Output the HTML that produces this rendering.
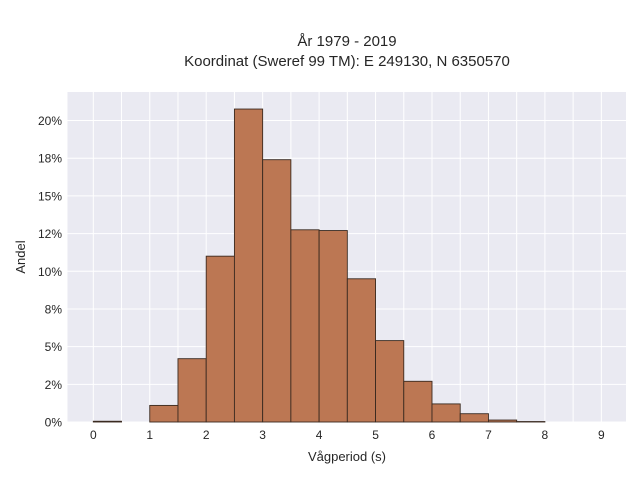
<!DOCTYPE html>
<html><head><meta charset="utf-8"><style>
body{margin:0;background:#fff;font-family:"Liberation Sans",sans-serif}
svg text{font-family:"Liberation Sans",sans-serif;fill:#262626}
</style></head><body>
<svg width="640" height="480" viewBox="0 0 640 480">
<text x="347" y="46" text-anchor="middle" font-size="15">År 1979 - 2019</text>
<text x="347" y="66" text-anchor="middle" font-size="15">Koordinat (Sweref 99 TM): E 249130, N 6350570</text>
<rect x="67.5" y="92" width="558.5" height="330" fill="#eaeaf2"/>
<g id="grid"></g>
<g id="bars"></g>
<g id="ticks"></g>
<text x="347" y="461" text-anchor="middle" font-size="13">Vågperiod (s)</text>
<text transform="translate(25,257) rotate(-90)" text-anchor="middle" font-size="13">Andel</text>
</svg>
<script>
const binStarts=[0,0.5,1,1.5,2,2.5,3,3.5,4,4.5,5,5.5,6,6.5,7,7.5];
const shares=[0.05,0,1.1,4.2,11.0,20.76,17.4,12.75,12.7,9.5,5.4,2.7,1.2,0.55,0.13,0.03];
const xTicks=[0,1,2,3,4,5,6,7,8,9];
const yTicks=[0,2.5,5,7.5,10,12.5,15,17.5,20];
const yTickLabels=["0%","2%","5%","8%","10%","12%","15%","18%","20%"];
const binWidth=0.5;
const NS="http://www.w3.org/2000/svg";
const X=v=>93.3+v*56.45;
const Y=v=>422-v*15.075;
function mk(t,a,p){const e=document.createElementNS(NS,t);for(const k in a)e.setAttribute(k,a[k]);p.appendChild(e);return e;}
const grid=document.getElementById('grid'),bars=document.getElementById('bars'),ticks=document.getElementById('ticks');
for(let v=-0.5;v<=9.5;v+=0.5){const x=X(v);if(x<68||x>626)continue;
 const l=mk('line',{x1:x,x2:x,y1:92,y2:422,stroke:'#fff','stroke-width':1},grid);
 
 }
yTicks.forEach((v,i)=>{const y=Y(v);
 const l=mk('line',{x1:67.5,x2:626,y1:y,y2:y,stroke:'#fff','stroke-width':1},grid);
 
 
 const t=mk('text',{x:62,y:y+4.5,'text-anchor':'end','font-size':12},ticks);t.textContent=yTickLabels[i];
 
 });
xTicks.forEach(v=>{const t=mk('text',{x:X(v),y:439,'text-anchor':'middle','font-size':12},ticks);t.textContent=v;
 
 });
binStarts.forEach((s,i)=>{const v=shares[i];if(v<=0)return;
 const x0=X(s),x1=X(s+binWidth),y=Y(v);
 const r=mk('rect',{x:x0,y:y,width:x1-x0,height:422-y,fill:'#bc7753',stroke:'#3a2a20','stroke-width':0.9},bars);
 
 });
</script>
</body></html>
